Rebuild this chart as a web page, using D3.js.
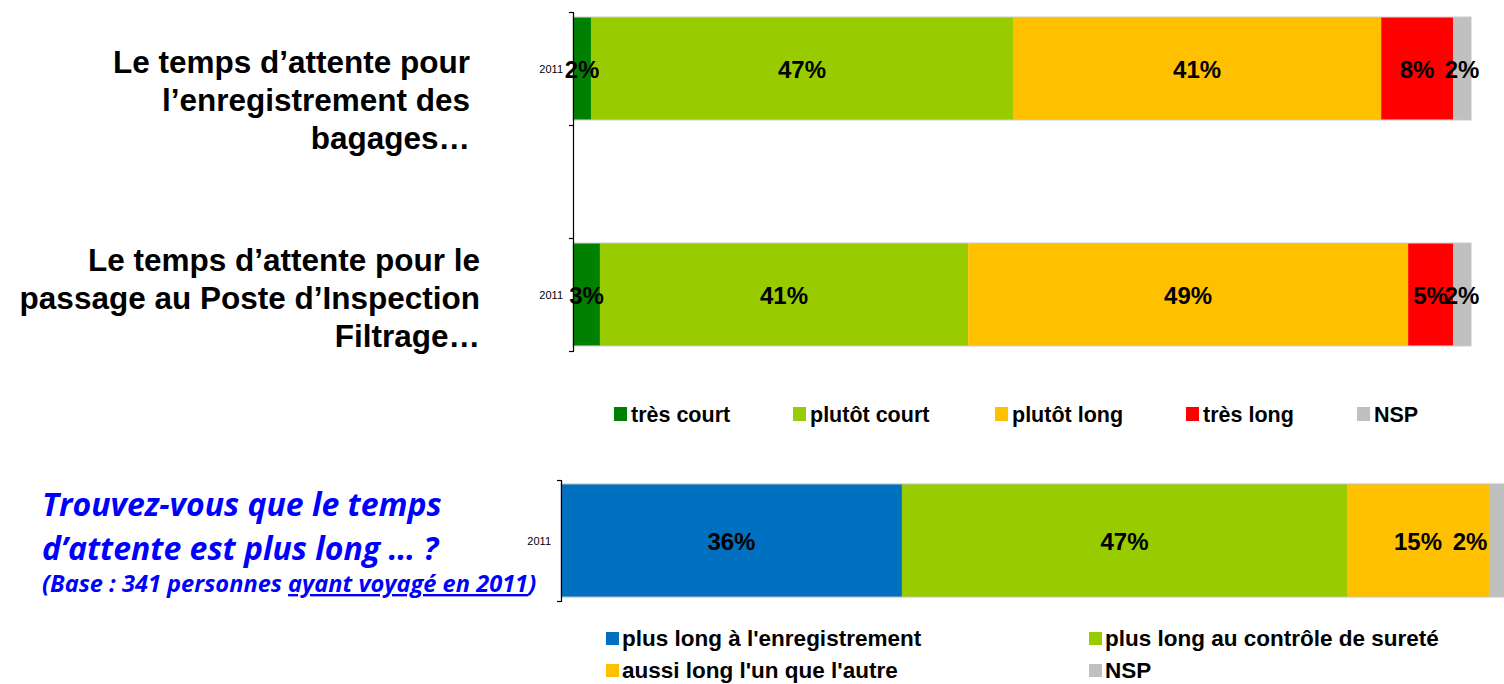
<!DOCTYPE html>
<html>
<head>
<meta charset="utf-8">
<script src="https://cdn.jsdelivr.net/npm/d3@7"></script>
<style>
  body { margin: 0; background: #fff; }
  svg { display: block; font-family: "Liberation Sans", Arial, sans-serif; }
</style>
</head>
<body>
<svg id="chart" width="1504" height="684"></svg>
<script>
// --- data ---
var year = "2011";

var waitCategories = ["très court", "plutôt court", "plutôt long", "très long", "NSP"];
var waitColors = ["#008000", "#99CC00", "#FFC000", "#FF0000", "#C0C0C0"];
var checkinValues = [2, 47, 41, 8, 2];
var filtrageValues = [3, 41, 49, 5, 2];

var checkinLabel = ["Le temps d’attente pour", "l’enregistrement des", "bagages…"];
var filtrageLabel = ["Le temps d’attente pour le", "passage au Poste d’Inspection", "Filtrage…"];

var compareCategories = ["plus long à l'enregistrement", "plus long au contrôle de sureté", "aussi long l'un que l'autre", "NSP"];
var compareColors = ["#0070C0", "#99CC00", "#FFC000", "#C0C0C0"];
var compareValues = [36, 47, 15, 2];

var questionLines = ["Trouvez-vous que le temps", "d’attente est plus long … ?"];
var baseText = ["(Base : 341 personnes ", "ayant voyagé en 2011", ")"];

var W = 1504;
var svg = d3.select("#chart");

// stack values into [x0, x1] segments
function stack(values) {
	var acc = 0;
	return values.map(function(v, i) {
		var s = {i: i, v: v, x0: acc, x1: acc + v};
		acc += v;
		return s;
	});
}

function drawBar(g, x, y, key, values, colors) {
	var segs = stack(values);
	var bar = g.append("g");
	bar.selectAll("rect")
		.data(segs)
		.enter()
		.append("rect")
		.attr("x", function(d) {return x(d.x0);})
		.attr("y", y(key))
		.attr("width", function(d) {return x(d.x1) - x(d.x0);})
		.attr("height", y.bandwidth())
		.style("fill", function(d) {return colors[d.i];});
	// thin grey outline round the whole bar
	bar.append("rect")
		.attr("x", x(0))
		.attr("y", y(key))
		.attr("width", x(100) - x(0))
		.attr("height", y.bandwidth())
		.style("fill", "none")
		.style("stroke", "#c4c4c4")
		.style("stroke-width", 1);
	bar.selectAll("text")
		.data(segs)
		.enter()
		.append("text")
		// keep labels inside the page when the bar runs off the edge
		.attr("x", function(d) {return Math.min((x(d.x0) + x(d.x1)) / 2, W - 34);})
		.attr("y", y(key) + y.bandwidth() / 2 + 9)
		.attr("text-anchor", "middle")
		.style("font-size", "24px")
		.style("font-weight", "bold")
		.style("fill", "#000")
		.text(function(d) {return d.v + "%";});
	// year label
	g.append("text")
		.attr("x", x(0) - 10)
		.attr("y", y(key) + y.bandwidth() / 2 + 4)
		.attr("text-anchor", "end")
		.style("font-size", "11px")
		.style("fill", "#000")
		.text(year);
}

function drawAxis(g, x0, y0, y1, n) {
	var s = d3.scaleLinear().domain([0, n]).range([y0, y1]);
	var axis = g.append("g")
		.attr("transform", "translate(" + x0 + ",0)")
		.call(d3.axisLeft(s).ticks(n).tickSize(4).tickSizeOuter(4).tickFormat(""));
	axis.selectAll("line, path").style("stroke", "#000").style("stroke-width", 1.2);
}

function drawLines(lines, xRight, y0, lh, size) {
	svg.append("g").selectAll("text")
		.data(lines)
		.enter()
		.append("text")
		.attr("x", xRight)
		.attr("y", function(d, i) {return y0 + i * lh;})
		.attr("text-anchor", "end")
		.style("font-size", size + "px")
		.style("font-weight", "bold")
		.style("fill", "#000")
		.text(function(d) {return d;});
}

// --- top chart: two questions, middle band left empty ---
var xTop = d3.scaleLinear().domain([0, 100]).range([573, 1471]);
var yTop = d3.scaleBand().domain(["checkin", "gap", "filtrage"]).range([12, 351])
	.paddingInner(0.09).paddingOuter(0.045);

var topChart = svg.append("g");
drawBar(topChart, xTop, yTop, "checkin", checkinValues, waitColors);
drawBar(topChart, xTop, yTop, "filtrage", filtrageValues, waitColors);
drawAxis(topChart, 573, 12, 351, 3);

drawLines(checkinLabel, 470, 73, 38, 31.5);
drawLines(filtrageLabel, 480, 271, 38, 31.5);

// legend 1
var legX = [614, 793, 995, 1186, 1357];
var leg1 = svg.append("g").selectAll("g")
	.data(waitCategories)
	.enter()
	.append("g")
	.attr("transform", function(d, i) {return "translate(" + legX[i] + ",407)";});
leg1.append("rect").attr("width", 13).attr("height", 14)
	.style("fill", function(d, i) {return waitColors[i];});
leg1.append("text").attr("x", 17).attr("y", 15)
	.style("font-size", "21.5px").style("font-weight", "bold")
	.text(function(d) {return d;});

// --- bottom chart ---
var xBot = d3.scaleLinear().domain([0, 100]).range([561, 1508]);
var yBot = d3.scaleBand().domain(["compare"]).range([480, 601]).paddingOuter(0.035);
var botChart = svg.append("g");
drawBar(botChart, xBot, yBot, "compare", compareValues, compareColors);
drawAxis(botChart, 561, 480, 601, 1);

var q = svg.append("g").style("font-family", "'Open Sans', sans-serif")
	.style("font-style", "italic").style("font-weight", "bold").style("fill", "#0000FF");
q.selectAll("text.q")
	.data(questionLines)
	.enter()
	.append("text")
	.attr("class", "q")
	.attr("x", 42)
	.attr("y", function(d, i) {return 516 + i * 44;})
	.style("font-size", "32px")
	.text(function(d) {return d;});
var base = q.append("text").attr("x", 42).attr("y", 592).style("font-size", "23.6px");
base.selectAll("tspan")
	.data(baseText)
	.enter()
	.append("tspan")
	.style("text-decoration", function(d, i) {return i == 1 ? "underline" : null;})
	.text(function(d) {return d;});

// legend 2 (2 columns x 2 rows)
var leg2 = svg.append("g").selectAll("g")
	.data(compareCategories)
	.enter()
	.append("g")
	.attr("transform", function(d, i) {
		return "translate(" + (i % 2 == 0 ? 606 : 1089) + "," + (i < 2 ? 632 : 664) + ")";
	});
leg2.append("rect").attr("width", 13).attr("height", 13)
	.style("fill", function(d, i) {return compareColors[i];});
leg2.append("text").attr("x", 16).attr("y", 14)
	.style("font-size", "22.5px").style("font-weight", "bold")
	.text(function(d) {return d;});
</script>
</body>
</html>
